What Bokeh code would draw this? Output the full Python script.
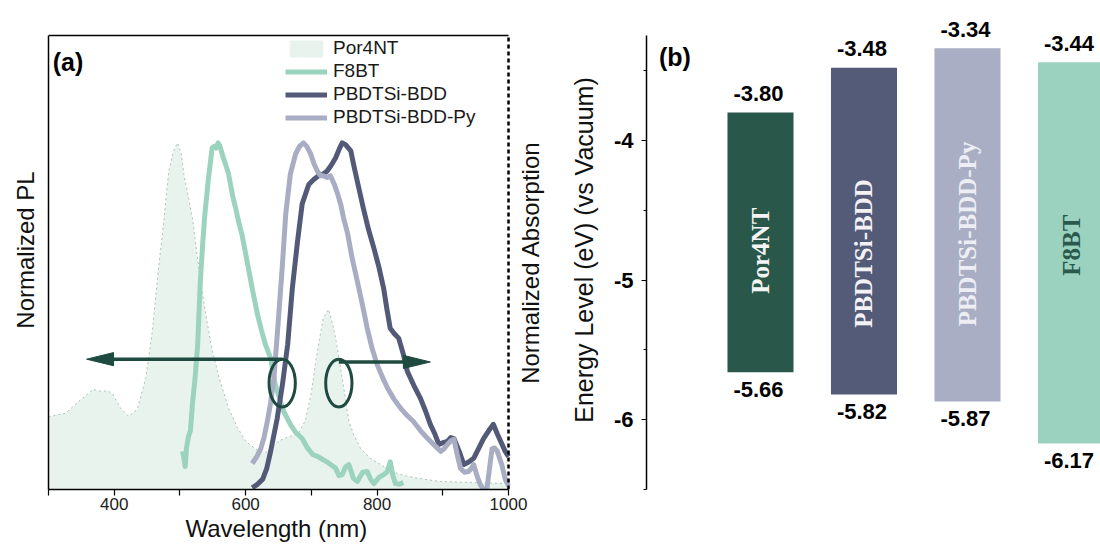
import math
from bokeh.plotting import figure
from bokeh.layouts import row
from bokeh.models import (Range1d, LinearAxis, FixedTicker, Label, LabelSet, Legend, LegendItem,
                          ColumnDataSource, Title)
from bokeh.core.properties import value
from bokeh.embed import file_html
from bokeh.resources import INLINE

FONT = "Liberation Sans"
SERIF = "Liberation Serif"

# ---------------- panel (a) data ----------------
por4nt_wl = [300, 326, 346, 368, 380, 390, 397, 410, 422, 435, 448, 458, 467, 475, 483, 490, 496,
             502, 506, 519, 528, 538, 548, 560, 574, 587, 600, 620, 632, 650, 665, 680, 691, 700,
             706, 712, 718, 726, 732, 737, 747, 757, 765, 775, 790, 805, 825, 846, 870, 897, 950, 1000]
por4nt_abs = [0.21, 0.22, 0.254, 0.289, 0.283, 0.285, 0.277, 0.234, 0.211, 0.231, 0.321, 0.457,
              0.63, 0.766, 0.919, 0.975, 1.0, 0.97, 0.91, 0.783, 0.65, 0.52, 0.41, 0.32, 0.235,
              0.18, 0.139, 0.11, 0.108, 0.14, 0.152, 0.16, 0.2, 0.28, 0.361, 0.43, 0.494, 0.52,
              0.48, 0.436, 0.321, 0.197, 0.155, 0.118, 0.09, 0.072, 0.05, 0.038, 0.03, 0.023,
              0.02, 0.017]

f8bt_wl = [504, 506, 508, 510, 513, 516, 519, 523, 527, 531, 535, 538, 543, 549, 552, 555, 558,
           561, 566, 570, 574, 581, 585, 589, 595, 600, 605, 610, 618, 624, 630, 638, 645, 652,
           658, 668, 676, 686, 694, 702, 710, 717, 725, 737, 742, 747, 752, 757, 764, 770, 778,
           785, 790, 795, 803, 810, 815, 820, 824, 828, 834, 840]
f8bt_pl = [0.11, 0.09, 0.066, 0.12, 0.153, 0.17, 0.246, 0.32, 0.419, 0.60, 0.72, 0.795, 0.89,
           0.986, 0.99, 0.985, 1.0, 0.99, 0.957, 0.935, 0.91, 0.84, 0.81, 0.775, 0.73, 0.68,
           0.63, 0.58, 0.505, 0.46, 0.419, 0.379, 0.303, 0.26, 0.225, 0.188, 0.165, 0.147, 0.12,
           0.101, 0.095, 0.087, 0.078, 0.061, 0.04, 0.043, 0.065, 0.072, 0.032, 0.023, 0.05,
           0.052, 0.03, 0.017, 0.035, 0.043, 0.05, 0.08, 0.04, 0.017, 0.015, 0.02]

bdd_wl = [610, 618, 626, 632, 638, 648, 656, 664, 671, 679, 686, 696, 704, 711, 718, 724, 730,
          737, 743, 747, 752, 760, 764, 771, 779, 787, 795, 803, 810, 815, 820, 826, 833, 840,
          846, 856, 866, 874, 881, 888, 894, 900, 907, 912, 917, 925, 932, 940, 947, 955, 962,
          970, 977, 983, 988, 995, 1000]
bdd_pl = [0.005, 0.015, 0.03, 0.06, 0.11, 0.205, 0.303, 0.419, 0.58, 0.717, 0.824, 0.88, 0.895,
          0.905, 0.91, 0.919, 0.935, 0.957, 0.985, 1.0, 0.995, 0.977, 0.94, 0.88, 0.812, 0.75,
          0.697, 0.64, 0.58, 0.52, 0.465, 0.45, 0.436, 0.39, 0.341, 0.3, 0.263, 0.225, 0.188,
          0.16, 0.13, 0.135, 0.139, 0.15, 0.147, 0.11, 0.072, 0.08, 0.09, 0.12, 0.147, 0.17,
          0.188, 0.16, 0.139, 0.11, 0.095]

py_wl = [610, 617, 623, 628, 633, 638, 643, 650, 656, 661, 668, 676, 682, 688, 693, 699, 704,
         709, 714, 718, 724, 729, 735, 740, 745, 749, 755, 762, 770, 778, 785, 792, 800, 808,
         816, 826, 836, 845, 855, 866, 877, 887, 897, 902, 907, 912, 917, 922, 927, 933, 939,
         943, 947, 952, 957, 962, 967, 971, 975, 979, 983, 990, 995, 1000]
py_pl = [0.075, 0.095, 0.118, 0.15, 0.197, 0.25, 0.321, 0.494, 0.65, 0.795, 0.91, 0.968, 0.99,
         1.0, 0.99, 0.968, 0.94, 0.919, 0.905, 0.905, 0.9, 0.905, 0.88, 0.853, 0.82, 0.783,
         0.74, 0.668, 0.6, 0.53, 0.465, 0.41, 0.361, 0.325, 0.292, 0.26, 0.234, 0.215, 0.197,
         0.17, 0.147, 0.128, 0.11, 0.118, 0.13, 0.14, 0.145, 0.1, 0.061, 0.05, 0.052, 0.06,
         0.072, 0.04, 0.014, 0.0, 0.0, 0.06, 0.118, 0.12, 0.11, 0.07, 0.03, 0.01]

# overlap marks (ellipses) and arrows pointing to the relevant axis
ellipse_x = [655.6, 741.8]
ellipse_y = [0.307, 0.307]
ellipse_w = [40.0, 40.0]
ellipse_h = [0.138, 0.138]
arrow_x_start = [655.6, 741.8]
arrow_x_end = [358.0, 881.0]
arrow_y = [0.376, 0.368]

# ---------------- panel (b) data ----------------
materials = ["Por4NT", "PBDTSi-BDD", "PBDTSi-BDD-Py", "F8BT"]
lumo = [-3.80, -3.48, -3.34, -3.44]
homo = [-5.66, -5.82, -5.87, -6.17]
name_y = [-4.79, -4.81, -4.67, -4.75]

# ---------------- styles ----------------
C_POR_FILL = "#e8f3ee"
C_POR_EDGE = "#a9c0b6"
C_F8BT = "#9bd3be"
C_BDD = "#525a78"
C_PY = "#a8adc3"
C_DARK = "#1f4a40"
bar_colors = ["#29584a", "#535b79", "#a9aec4", "#9bd2bf"]
name_colors = ["#f4f4f4", "#f2f2f5", "#eceef4", "#2a5a4b"]

H = 545
TOP = 10
BOTTOM = 56
X_MIN, X_MAX = 300, 1000      # drawn box of panel (a)
A_YMAX = 1.31                 # top of the drawn box in panel (a)

# ================= panel (a) =================
# the frame runs past 1000 nm so the right-hand title can be drawn inside it
pa = figure(width=560, height=H, x_range=Range1d(X_MIN, 1079.1), y_range=Range1d(0, 1.382),
            output_backend="svg", toolbar_location=None,
            x_axis_location=None, y_axis_location=None,
            min_border_left=48, min_border_right=0, min_border_top=TOP, min_border_bottom=BOTTOM)
pa.outline_line_color = None
pa.grid.visible = False

xa = LinearAxis(ticker=FixedTicker(ticks=[400, 600, 800, 1000], minor_ticks=[300, 500, 700, 900]),
                bounds=(X_MIN, X_MAX))
xa.axis_line_width = 1.5
xa.major_tick_out = 6
xa.major_tick_in = 0
xa.minor_tick_out = 6
xa.minor_tick_in = 0
xa.major_tick_line_width = 1.2
xa.minor_tick_line_width = 1.2
xa.major_label_standoff = 2
xa.major_label_text_font = FONT
xa.major_label_text_font_size = "17px"
xa.major_label_text_color = "#222222"
pa.add_layout(xa, "below")

# x-axis title, centred under the 300-1000 nm box (not under the wider frame)
pa.add_layout(Title(text="Wavelength (nm)", align="left", offset=137, standoff=0,
                    text_font=FONT, text_font_size="24px", text_font_style="normal",
                    text_color="#111111"), "below")

ya = LinearAxis(ticker=FixedTicker(ticks=[]), bounds=(0, A_YMAX), axis_label="Normalized PL")
ya.major_tick_out = 0
ya.major_tick_in = 0
ya.minor_tick_out = 0
ya.minor_tick_in = 0
ya.major_label_standoff = 0
ya.major_label_text_font_size = "0px"
ya.axis_line_width = 1.5
ya.axis_label_text_font = FONT
ya.axis_label_text_font_size = "24px"
ya.axis_label_text_font_style = "normal"
ya.axis_label_text_color = "#111111"
ya.axis_label_standoff = 10
pa.add_layout(ya, "left")

src_por = ColumnDataSource(dict(x=por4nt_wl, y=por4nt_abs))
r_por = pa.varea(x="x", y1=0, y2="y", source=src_por, fill_color=C_POR_FILL)
pa.line(x="x", y="y", source=src_por, line_color=C_POR_EDGE, line_width=1, line_dash="2 3")

r_f8 = pa.line(f8bt_wl, f8bt_pl, line_color=C_F8BT, line_width=5, line_join="round")
r_bdd = pa.line(bdd_wl, bdd_pl, line_color=C_BDD, line_width=5, line_join="round")
r_py = pa.line(py_wl, py_pl, line_color=C_PY, line_width=5, line_join="round")

# box: solid top edge, dashed right edge (absorption side)
pa.segment(x0=[X_MIN], y0=[A_YMAX], x1=[X_MAX], y1=[A_YMAX], line_color="black", line_width=1.5)
pa.segment(x0=[X_MAX], y0=[0], x1=[X_MAX], y1=[A_YMAX], line_color="black", line_width=2.5,
           line_dash="4 3")
pa.text(x=[X_MAX], y=[A_YMAX / 2], text=["Normalized Absorption"], x_offset=22,
        angle=math.pi / 2, text_align="center", text_baseline="middle",
        text_font=value(FONT), text_font_size="24px", text_color="#111111")

# arrows: shaft + triangular head
HEAD_LEN = 41.0
HEAD_HALF = 0.019
shaft_end = []
head_xs, head_ys = [], []
for xs0, xe, yy in zip(arrow_x_start, arrow_x_end, arrow_y):
    sgn = 1 if xe > xs0 else -1
    base = xe - sgn * HEAD_LEN
    shaft_end.append(base)
    head_xs.append([xe, base, base])
    head_ys.append([yy, yy + HEAD_HALF, yy - HEAD_HALF])
pa.segment(x0=arrow_x_start, y0=arrow_y, x1=shaft_end, y1=arrow_y, line_color=C_DARK,
           line_width=3.5)
pa.patches(xs=head_xs, ys=head_ys, fill_color=C_DARK, line_color=C_DARK, line_width=1)
pa.ellipse(x=ellipse_x, y=ellipse_y, width=ellipse_w, height=ellipse_h, fill_color=None,
           line_color=C_DARK, line_width=3)

pa.add_layout(Label(x=306.5, y=1.234, text="(a)", text_font=FONT, text_font_style="bold",
                    text_font_size="25px", text_baseline="middle", text_align="left",
                    text_color="#000000"))

legend = Legend(items=[LegendItem(label="Por4NT", renderers=[r_por]),
                       LegendItem(label="F8BT", renderers=[r_f8]),
                       LegendItem(label="PBDTSi-BDD", renderers=[r_bdd]),
                       LegendItem(label="PBDTSi-BDD-Py", renderers=[r_py])],
                location="top_right", margin=27, padding=0, spacing=1,
                glyph_width=42, glyph_height=21, label_standoff=6, label_width=200,
                label_height=21, label_text_font=FONT, label_text_font_size="19px",
                label_text_color="#1a1a1a", background_fill_alpha=0, border_line_color=None)
pa.add_layout(legend)

# ================= panel (b) =================
pb = figure(width=540, height=H, x_range=Range1d(-1.1014, 3.285),
            y_range=Range1d(-6.5, -3.0694), output_backend="svg", toolbar_location=None,
            x_axis_location=None, y_axis_location="left",
            min_border_left=86, min_border_right=0, min_border_top=TOP, min_border_bottom=BOTTOM)
pb.outline_line_color = None
pb.grid.visible = False

yb = pb.yaxis[0]
yb.ticker = FixedTicker(ticks=[-6, -5, -4], minor_ticks=[-6.5, -5.5, -4.5, -3.5])
yb.bounds = (-6.5, -3.25)
yb.major_label_overrides = {-4: "-4", -5: "-5", -6: "-6"}
yb.axis_line_width = 1.5
yb.major_tick_out = 5
yb.major_tick_in = 0
yb.minor_tick_out = 3
yb.minor_tick_in = 0
yb.major_tick_line_width = 1.2
yb.minor_tick_line_width = 1.2
yb.major_label_standoff = 8
yb.major_label_text_font = FONT
yb.major_label_text_font_style = "bold"
yb.major_label_text_font_size = "22px"
yb.major_label_text_color = "#000000"
yb.axis_label = "Energy Level (eV) (vs Vacuum)"
yb.axis_label_text_font = FONT
yb.axis_label_text_font_size = "25px"
yb.axis_label_text_font_style = "normal"
yb.axis_label_text_color = "#111111"
yb.axis_label_standoff = 13

xs = list(range(len(materials)))
src_b = ColumnDataSource(dict(x=xs, lumo=lumo, homo=homo, name=materials, name_y=name_y,
                              lumo_txt=[f"{v:.2f}" for v in lumo],
                              homo_txt=[f"{v:.2f}" for v in homo],
                              bar_color=bar_colors, name_color=name_colors))
pb.vbar(x="x", top="lumo", bottom="homo", width=0.638, fill_color="bar_color", line_color=None,
        source=src_b)
pb.text(x="x", y="name_y", text="name", angle=math.pi / 2, text_align="center",
        text_baseline="middle", text_font=value(SERIF), text_font_style="bold",
        text_font_size="25px", text_color="name_color", source=src_b)

pb.add_layout(LabelSet(x="x", y="lumo", text="lumo_txt", x_offset=-2, y_offset=19,
                       text_align="center", text_baseline="middle", text_font=value(FONT),
                       text_font_style="bold", text_font_size="22px", text_color="#000000",
                       source=src_b))
pb.add_layout(LabelSet(x="x", y="homo", text="homo_txt", x_offset=-2, y_offset=-17,
                       text_align="center", text_baseline="middle", text_font=value(FONT),
                       text_font_style="bold", text_font_size="22px", text_color="#000000",
                       source=src_b))

pb.add_layout(Label(x=-0.981, y=-3.40, text="(b)", text_font=FONT, text_font_style="bold",
                    text_font_size="25px", text_baseline="middle", text_align="left",
                    text_color="#000000"))

layout = row(pa, pb)
open("out.html", "w").write(file_html(layout, INLINE, "chart"))
